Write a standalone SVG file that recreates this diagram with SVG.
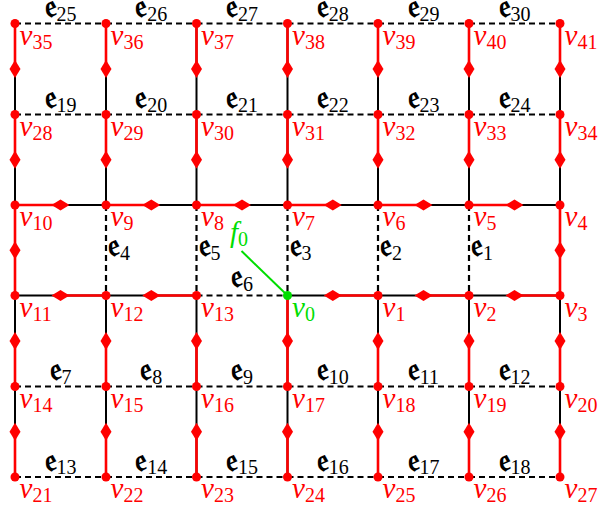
<svg xmlns="http://www.w3.org/2000/svg" xmlns:xlink="http://www.w3.org/1999/xlink" width="600" height="508" viewBox="0 0 600 508">
<style>
.k{stroke:#000;stroke-width:2;fill:none}
.d{stroke:#000;stroke-width:2.2;fill:none;stroke-dasharray:6 4}
.r{stroke:#f00;stroke-width:2.6;fill:none}
.m{fill:#f00}
circle{fill:#f00}
text.v{font-family:"Liberation Serif",serif;font-size:29px;fill:#f00}
.i{font-style:italic}
.s{font-size:20px}
text.e{font-family:"DejaVu Serif","DejaVu Sans",serif;font-size:32px;font-weight:bold;fill:#000}
text.e .s{font-family:"Liberation Serif",serif;font-size:20px;font-weight:normal}
text.em{text-anchor:middle}
</style>
<defs>
<path id="dh" d="M-9,0L0,-5.5L9,0L0,5.5Z"/>
<path id="dv" d="M0,-9L5.5,0L0,9L-5.5,0Z"/>
</defs>
<rect width="600" height="508" fill="#fff"/>
<g id="connectors">
<path class="d" d="M15,23.5H106M106,23.5H196.5M196.5,23.5H287.5M287.5,23.5H378M378,23.5H469M469,23.5H560"/>
<path class="d" d="M15,114.5H106M106,114.5H196.5M196.5,114.5H287.5M287.5,114.5H378M378,114.5H469M469,114.5H560"/>
<path class="d" d="M15,386.5H106M106,386.5H196.5M196.5,386.5H287.5M287.5,386.5H378M378,386.5H469M469,386.5H560"/>
<path class="d" d="M15,477H106M106,477H196.5M196.5,477H287.5M287.5,477H378M378,477H469M469,477H560"/>
<path class="d" d="M106,205V295.5M196.5,205V295.5M287.5,205V295.5M378,205V295.5M469,205V295.5M196.5,295.5H287.5"/>
<path class="k" d="M15,23.5V205M106,23.5V205M196.5,23.5V205M287.5,23.5V205M378,23.5V205M469,23.5V205M560,23.5V205"/>
<path class="k" d="M15,295.5V477M106,295.5V477M196.5,295.5V477M287.5,295.5V477M378,295.5V477M469,295.5V477M560,295.5V477"/>
<path class="k" d="M15,205H560M15,295.5H196.5M287.5,295.5H560"/>
<path class="r" d="M15,23.5V69M106,23.5V69M196.5,23.5V69M287.5,23.5V69M378,23.5V69M469,23.5V69M560,23.5V69"/>
<path class="r" d="M15,114.5V159.8M106,114.5V159.8M196.5,114.5V159.8M287.5,114.5V159.8M378,114.5V159.8M469,114.5V159.8M560,114.5V159.8"/>
<path class="r" d="M15,205V295.5M560,205V295.5"/>
<path class="r" d="M15,341V386.5M106,341V386.5M196.5,341V386.5M287.5,295.5V386.5M378,341V386.5M469,341V386.5M560,341V386.5"/>
<path class="r" d="M15,431.8V477M106,431.8V477M196.5,431.8V477M287.5,431.8V477M378,431.8V477M469,431.8V477M560,431.8V477"/>
<path class="r" d="M15,205H60.5M106,205H151.3M196.5,205H242M287.5,205H332.8M378,205H423.5M469,205H514.5"/>
<path class="r" d="M60.5,295.5H106M151.3,295.5H196.5M332.8,295.5H378M423.5,295.5H469M514.5,295.5H560"/>
<g class="m">
<use xlink:href="#dv" x="15" y="69"/><use xlink:href="#dv" x="106" y="69"/><use xlink:href="#dv" x="196.5" y="69"/><use xlink:href="#dv" x="287.5" y="69"/><use xlink:href="#dv" x="378" y="69"/><use xlink:href="#dv" x="469" y="69"/><use xlink:href="#dv" x="560" y="69"/>
<use xlink:href="#dv" x="15" y="159.8"/><use xlink:href="#dv" x="106" y="159.8"/><use xlink:href="#dv" x="196.5" y="159.8"/><use xlink:href="#dv" x="287.5" y="159.8"/><use xlink:href="#dv" x="378" y="159.8"/><use xlink:href="#dv" x="469" y="159.8"/><use xlink:href="#dv" x="560" y="159.8"/>
<use xlink:href="#dv" x="15" y="250.3"/><use xlink:href="#dv" x="560" y="250.3"/>
<use xlink:href="#dv" x="15" y="341"/><use xlink:href="#dv" x="106" y="341"/><use xlink:href="#dv" x="196.5" y="341"/><use xlink:href="#dv" x="287.5" y="341"/><use xlink:href="#dv" x="378" y="341"/><use xlink:href="#dv" x="469" y="341"/><use xlink:href="#dv" x="560" y="341"/>
<use xlink:href="#dv" x="15" y="431.8"/><use xlink:href="#dv" x="106" y="431.8"/><use xlink:href="#dv" x="196.5" y="431.8"/><use xlink:href="#dv" x="287.5" y="431.8"/><use xlink:href="#dv" x="378" y="431.8"/><use xlink:href="#dv" x="469" y="431.8"/><use xlink:href="#dv" x="560" y="431.8"/>
<use xlink:href="#dh" x="60.5" y="205"/><use xlink:href="#dh" x="151.3" y="205"/><use xlink:href="#dh" x="242" y="205"/><use xlink:href="#dh" x="332.8" y="205"/><use xlink:href="#dh" x="423.5" y="205"/><use xlink:href="#dh" x="514.5" y="205"/>
<use xlink:href="#dh" x="60.5" y="295.5"/><use xlink:href="#dh" x="151.3" y="295.5"/><use xlink:href="#dh" x="332.8" y="295.5"/><use xlink:href="#dh" x="423.5" y="295.5"/><use xlink:href="#dh" x="514.5" y="295.5"/>
</g>
<path d="M241.5,251L287.5,295.5" stroke="#00dd00" stroke-width="2" fill="none"/>
</g>
<g id="edge-labels">
<text class="e em" x="60.5" y="17">𝔢<tspan class="s" dy="3.5">25</tspan></text>
<text class="e em" x="151.3" y="17">𝔢<tspan class="s" dy="3.5">26</tspan></text>
<text class="e em" x="242" y="17">𝔢<tspan class="s" dy="3.5">27</tspan></text>
<text class="e em" x="332.8" y="17">𝔢<tspan class="s" dy="3.5">28</tspan></text>
<text class="e em" x="423.5" y="17">𝔢<tspan class="s" dy="3.5">29</tspan></text>
<text class="e em" x="514.5" y="17">𝔢<tspan class="s" dy="3.5">30</tspan></text>
<text class="e em" x="60.5" y="108">𝔢<tspan class="s" dy="3.5">19</tspan></text>
<text class="e em" x="151.3" y="108">𝔢<tspan class="s" dy="3.5">20</tspan></text>
<text class="e em" x="242" y="108">𝔢<tspan class="s" dy="3.5">21</tspan></text>
<text class="e em" x="332.8" y="108">𝔢<tspan class="s" dy="3.5">22</tspan></text>
<text class="e em" x="423.5" y="108">𝔢<tspan class="s" dy="3.5">23</tspan></text>
<text class="e em" x="514.5" y="108">𝔢<tspan class="s" dy="3.5">24</tspan></text>
<text class="e em" x="60.5" y="380">𝔢<tspan class="s" dy="3.5">7</tspan></text>
<text class="e em" x="151.3" y="380">𝔢<tspan class="s" dy="3.5">8</tspan></text>
<text class="e em" x="242" y="380">𝔢<tspan class="s" dy="3.5">9</tspan></text>
<text class="e em" x="332.8" y="380">𝔢<tspan class="s" dy="3.5">10</tspan></text>
<text class="e em" x="423.5" y="380">𝔢<tspan class="s" dy="3.5">11</tspan></text>
<text class="e em" x="514.5" y="380">𝔢<tspan class="s" dy="3.5">12</tspan></text>
<text class="e em" x="60.5" y="470.5">𝔢<tspan class="s" dy="3.5">13</tspan></text>
<text class="e em" x="151.3" y="470.5">𝔢<tspan class="s" dy="3.5">14</tspan></text>
<text class="e em" x="242" y="470.5">𝔢<tspan class="s" dy="3.5">15</tspan></text>
<text class="e em" x="332.8" y="470.5">𝔢<tspan class="s" dy="3.5">16</tspan></text>
<text class="e em" x="423.5" y="470.5">𝔢<tspan class="s" dy="3.5">17</tspan></text>
<text class="e em" x="514.5" y="470.5">𝔢<tspan class="s" dy="3.5">18</tspan></text>
<text class="e" x="108" y="256">𝔢<tspan class="s" dy="4">4</tspan></text>
<text class="e" x="198.5" y="256">𝔢<tspan class="s" dy="4">5</tspan></text>
<text class="e" x="289.5" y="256">𝔢<tspan class="s" dy="4">3</tspan></text>
<text class="e" x="380" y="256">𝔢<tspan class="s" dy="4">2</tspan></text>
<text class="e" x="471" y="256">𝔢<tspan class="s" dy="4">1</tspan></text>
<text class="e em" x="242" y="287">𝔢<tspan class="s" dy="4">6</tspan></text>
<text class="v" x="230" y="242" style="fill:#00dd00"><tspan class="i">f</tspan><tspan class="s" dy="4">0</tspan></text>
</g>
<g id="v35"><circle cx="15" cy="23.5" r="4.5"/><text class="v" x="19.5" y="44.5"><tspan class="i">v</tspan><tspan class="s" dy="4">35</tspan></text></g>
<g id="v36"><circle cx="106" cy="23.5" r="4.5"/><text class="v" x="110.5" y="44.5"><tspan class="i">v</tspan><tspan class="s" dy="4">36</tspan></text></g>
<g id="v37"><circle cx="196.5" cy="23.5" r="4.5"/><text class="v" x="201" y="44.5"><tspan class="i">v</tspan><tspan class="s" dy="4">37</tspan></text></g>
<g id="v38"><circle cx="287.5" cy="23.5" r="4.5"/><text class="v" x="292" y="44.5"><tspan class="i">v</tspan><tspan class="s" dy="4">38</tspan></text></g>
<g id="v39"><circle cx="378" cy="23.5" r="4.5"/><text class="v" x="382.5" y="44.5"><tspan class="i">v</tspan><tspan class="s" dy="4">39</tspan></text></g>
<g id="v40"><circle cx="469" cy="23.5" r="4.5"/><text class="v" x="473.5" y="44.5"><tspan class="i">v</tspan><tspan class="s" dy="4">40</tspan></text></g>
<g id="v41"><circle cx="560" cy="23.5" r="4.5"/><text class="v" x="564.5" y="44.5"><tspan class="i">v</tspan><tspan class="s" dy="4">41</tspan></text></g>
<g id="v28"><circle cx="15" cy="114.5" r="4.5"/><text class="v" x="19.5" y="135.5"><tspan class="i">v</tspan><tspan class="s" dy="4">28</tspan></text></g>
<g id="v29"><circle cx="106" cy="114.5" r="4.5"/><text class="v" x="110.5" y="135.5"><tspan class="i">v</tspan><tspan class="s" dy="4">29</tspan></text></g>
<g id="v30"><circle cx="196.5" cy="114.5" r="4.5"/><text class="v" x="201" y="135.5"><tspan class="i">v</tspan><tspan class="s" dy="4">30</tspan></text></g>
<g id="v31"><circle cx="287.5" cy="114.5" r="4.5"/><text class="v" x="292" y="135.5"><tspan class="i">v</tspan><tspan class="s" dy="4">31</tspan></text></g>
<g id="v32"><circle cx="378" cy="114.5" r="4.5"/><text class="v" x="382.5" y="135.5"><tspan class="i">v</tspan><tspan class="s" dy="4">32</tspan></text></g>
<g id="v33"><circle cx="469" cy="114.5" r="4.5"/><text class="v" x="473.5" y="135.5"><tspan class="i">v</tspan><tspan class="s" dy="4">33</tspan></text></g>
<g id="v34"><circle cx="560" cy="114.5" r="4.5"/><text class="v" x="564.5" y="135.5"><tspan class="i">v</tspan><tspan class="s" dy="4">34</tspan></text></g>
<g id="v10"><circle cx="15" cy="205" r="4.5"/><text class="v" x="19.5" y="226"><tspan class="i">v</tspan><tspan class="s" dy="4">10</tspan></text></g>
<g id="v9"><circle cx="106" cy="205" r="4.5"/><text class="v" x="110.5" y="226"><tspan class="i">v</tspan><tspan class="s" dy="4">9</tspan></text></g>
<g id="v8"><circle cx="196.5" cy="205" r="4.5"/><text class="v" x="201" y="226"><tspan class="i">v</tspan><tspan class="s" dy="4">8</tspan></text></g>
<g id="v7"><circle cx="287.5" cy="205" r="4.5"/><text class="v" x="292" y="226"><tspan class="i">v</tspan><tspan class="s" dy="4">7</tspan></text></g>
<g id="v6"><circle cx="378" cy="205" r="4.5"/><text class="v" x="382.5" y="226"><tspan class="i">v</tspan><tspan class="s" dy="4">6</tspan></text></g>
<g id="v5"><circle cx="469" cy="205" r="4.5"/><text class="v" x="473.5" y="226"><tspan class="i">v</tspan><tspan class="s" dy="4">5</tspan></text></g>
<g id="v4"><circle cx="560" cy="205" r="4.5"/><text class="v" x="564.5" y="226"><tspan class="i">v</tspan><tspan class="s" dy="4">4</tspan></text></g>
<g id="v11"><circle cx="15" cy="295.5" r="4.5"/><text class="v" x="19.5" y="316.5"><tspan class="i">v</tspan><tspan class="s" dy="4">11</tspan></text></g>
<g id="v12"><circle cx="106" cy="295.5" r="4.5"/><text class="v" x="110.5" y="316.5"><tspan class="i">v</tspan><tspan class="s" dy="4">12</tspan></text></g>
<g id="v13"><circle cx="196.5" cy="295.5" r="4.5"/><text class="v" x="201" y="316.5"><tspan class="i">v</tspan><tspan class="s" dy="4">13</tspan></text></g>
<g id="v0"><circle cx="287.5" cy="295.5" r="4.5" style="fill:#00dd00"/><text class="v" x="292" y="316.5" style="fill:#00dd00"><tspan class="i">v</tspan><tspan class="s" dy="4">0</tspan></text></g>
<g id="v1"><circle cx="378" cy="295.5" r="4.5"/><text class="v" x="382.5" y="316.5"><tspan class="i">v</tspan><tspan class="s" dy="4">1</tspan></text></g>
<g id="v2"><circle cx="469" cy="295.5" r="4.5"/><text class="v" x="473.5" y="316.5"><tspan class="i">v</tspan><tspan class="s" dy="4">2</tspan></text></g>
<g id="v3"><circle cx="560" cy="295.5" r="4.5"/><text class="v" x="564.5" y="316.5"><tspan class="i">v</tspan><tspan class="s" dy="4">3</tspan></text></g>
<g id="v14"><circle cx="15" cy="386.5" r="4.5"/><text class="v" x="19.5" y="407.5"><tspan class="i">v</tspan><tspan class="s" dy="4">14</tspan></text></g>
<g id="v15"><circle cx="106" cy="386.5" r="4.5"/><text class="v" x="110.5" y="407.5"><tspan class="i">v</tspan><tspan class="s" dy="4">15</tspan></text></g>
<g id="v16"><circle cx="196.5" cy="386.5" r="4.5"/><text class="v" x="201" y="407.5"><tspan class="i">v</tspan><tspan class="s" dy="4">16</tspan></text></g>
<g id="v17"><circle cx="287.5" cy="386.5" r="4.5"/><text class="v" x="292" y="407.5"><tspan class="i">v</tspan><tspan class="s" dy="4">17</tspan></text></g>
<g id="v18"><circle cx="378" cy="386.5" r="4.5"/><text class="v" x="382.5" y="407.5"><tspan class="i">v</tspan><tspan class="s" dy="4">18</tspan></text></g>
<g id="v19"><circle cx="469" cy="386.5" r="4.5"/><text class="v" x="473.5" y="407.5"><tspan class="i">v</tspan><tspan class="s" dy="4">19</tspan></text></g>
<g id="v20"><circle cx="560" cy="386.5" r="4.5"/><text class="v" x="564.5" y="407.5"><tspan class="i">v</tspan><tspan class="s" dy="4">20</tspan></text></g>
<g id="v21"><circle cx="15" cy="477" r="4.5"/><text class="v" x="19.5" y="498"><tspan class="i">v</tspan><tspan class="s" dy="4">21</tspan></text></g>
<g id="v22"><circle cx="106" cy="477" r="4.5"/><text class="v" x="110.5" y="498"><tspan class="i">v</tspan><tspan class="s" dy="4">22</tspan></text></g>
<g id="v23"><circle cx="196.5" cy="477" r="4.5"/><text class="v" x="201" y="498"><tspan class="i">v</tspan><tspan class="s" dy="4">23</tspan></text></g>
<g id="v24"><circle cx="287.5" cy="477" r="4.5"/><text class="v" x="292" y="498"><tspan class="i">v</tspan><tspan class="s" dy="4">24</tspan></text></g>
<g id="v25"><circle cx="378" cy="477" r="4.5"/><text class="v" x="382.5" y="498"><tspan class="i">v</tspan><tspan class="s" dy="4">25</tspan></text></g>
<g id="v26"><circle cx="469" cy="477" r="4.5"/><text class="v" x="473.5" y="498"><tspan class="i">v</tspan><tspan class="s" dy="4">26</tspan></text></g>
<g id="v27"><circle cx="560" cy="477" r="4.5"/><text class="v" x="564.5" y="498"><tspan class="i">v</tspan><tspan class="s" dy="4">27</tspan></text></g>
</svg>
